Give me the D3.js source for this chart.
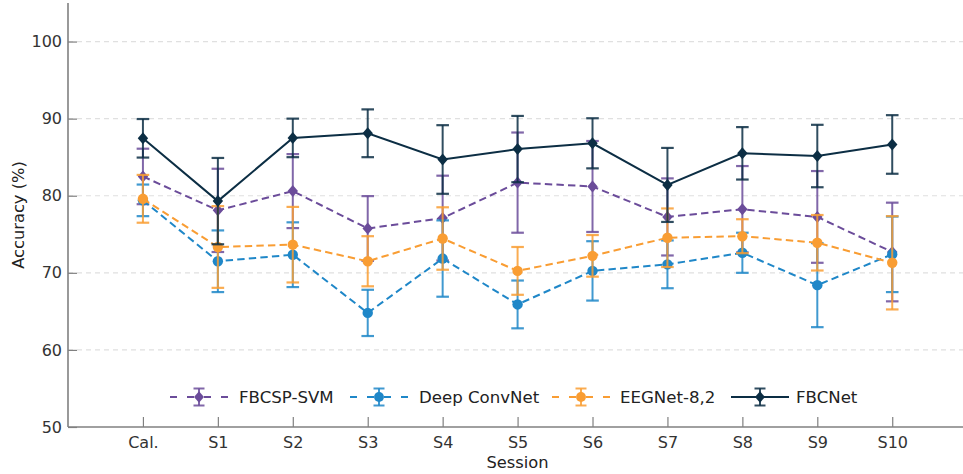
<!DOCTYPE html>
<html>
<head>
<meta charset="utf-8">
<script src="https://cdn.jsdelivr.net/npm/d3@7"></script>
<style>
  html, body { margin: 0; padding: 0; background: #fff; }
  svg { display: block; font-family: "DejaVu Sans", sans-serif; }
</style>
</head>
<body>
<svg id="chart" width="963" height="474"></svg>
<script>
// Sessions on the x axis
const sessions = ["Cal.", "S1", "S2", "S3", "S4", "S5", "S6", "S7", "S8", "S9", "S10"];

// Mean accuracy (%) and standard deviation per session
const fbcspMean   = [82.5, 78.1, 80.6, 75.75, 77.1, 81.7, 81.2, 77.25, 78.25, 77.25, 72.7];
const fbcspSd     = [3.6, 5.4, 4.8, 4.2, 5.5, 6.5, 5.9, 5.0, 5.6, 5.95, 6.4];
const deepMean    = [79.4, 71.5, 72.35, 64.8, 71.85, 65.9, 70.25, 71.1, 72.6, 68.4, 72.4];
const deepSd      = [2.05, 4.0, 4.2, 3.0, 4.95, 3.1, 3.85, 3.1, 2.6, 5.45, 4.9];
const eegnetMean  = [79.6, 73.35, 73.65, 71.5, 74.45, 70.25, 72.2, 74.55, 74.75, 73.9, 71.3];
const eegnetSd    = [3.1, 5.3, 4.9, 3.25, 4.05, 3.1, 2.7, 3.8, 2.2, 3.6, 6.05];
const fbcnetMean  = [87.45, 79.3, 87.5, 88.1, 84.7, 86.05, 86.8, 81.4, 85.5, 85.15, 86.65];
const fbcnetSd    = [2.5, 5.6, 2.5, 3.1, 4.45, 4.3, 3.25, 4.8, 3.4, 4.05, 3.8];

const yTicks = [50, 60, 70, 80, 90, 100];

const seriesNames = ["FBCSP-SVM", "Deep ConvNet", "EEGNet-8,2", "FBCNet"];

const series = [
  { name: seriesNames[0], mean: fbcspMean,  sd: fbcspSd,  color: "#6b4c9a", marker: "diamond", dashed: true },
  { name: seriesNames[1], mean: deepMean,   sd: deepSd,   color: "#1f87c8", marker: "circle",  dashed: true },
  { name: seriesNames[2], mean: eegnetMean, sd: eegnetSd, color: "#f99d33", marker: "circle",  dashed: true },
  { name: seriesNames[3], mean: fbcnetMean, sd: fbcnetSd, color: "#0c2e44", marker: "diamond", dashed: false }
];

const svg = d3.select("#chart");
const W = 963, H = 474;
const plotLeft = 68, plotBottom = 427, plotTop = 3;

const x = d3.scaleLinear().domain([-1, 11]).range([plotLeft, plotLeft + 12 * 74.93]);
const y = d3.scaleLinear().domain([50, 105]).range([plotBottom, plotTop]);

svg.append("defs").append("clipPath").attr("id", "plotclip")
  .append("rect").attr("x", plotLeft).attr("y", 0).attr("width", W - plotLeft).attr("height", plotBottom);

// Horizontal grid
svg.append("g")
  .selectAll("line")
  .data(yTicks.filter(t => t > 50))
  .join("line")
  .attr("x1", plotLeft).attr("x2", W)
  .attr("y1", d => y(d)).attr("y2", d => y(d))
  .attr("stroke", "#e0e0e0")
  .attr("stroke-width", 1.2)
  .attr("stroke-dasharray", "5,4");

// Axes with inward ticks
const yAxis = d3.axisLeft(y).tickValues(yTicks).tickSize(-9).tickPadding(6);
const yG = svg.append("g").attr("transform", `translate(${plotLeft},0)`).call(yAxis);
yG.select(".domain").attr("d", `M0,${y(105)}V${plotBottom}`);

const xAxis = d3.axisBottom(x).tickValues(d3.range(sessions.length)).tickFormat(i => sessions[i]).tickSize(-10).tickPadding(7);
const xG = svg.append("g").attr("transform", `translate(0,${plotBottom})`).call(xAxis);
xG.select(".domain").attr("d", `M${plotLeft},0H${W}`);

[yG, xG].forEach(g => {
  g.select(".domain").attr("stroke", "#808080").attr("stroke-width", 1.6);
  g.selectAll(".tick line").attr("stroke", "#808080").attr("stroke-width", 1.2);
  g.selectAll(".tick text").attr("fill", "#333").style("font-size", "16px").style("font-family", "DejaVu Sans, sans-serif");
});
yG.selectAll(".tick text").attr("x", -6);
xG.selectAll(".tick text").attr("y", 10);

// Axis titles
svg.append("text")
  .attr("transform", `translate(19,${(y(105) + plotBottom) / 2}) rotate(-90)`)
  .attr("text-anchor", "middle")
  .attr("dominant-baseline", "middle")
  .attr("fill", "#222")
  .style("font-size", "16.3px")
  .text("Accuracy (%)");

svg.append("text")
  .attr("x", x(5)).attr("y", 468)
  .attr("text-anchor", "middle")
  .attr("fill", "#222")
  .style("font-size", "16.3px")
  .text("Session");

function diamondPath(cx, cy, hw, hh) {
  return `M${cx},${cy - hh}L${cx + hw},${cy}L${cx},${cy + hh}L${cx - hw},${cy}Z`;
}

function drawMarker(g, kind, cx, cy, color, scale = 1) {
  if (kind === "circle") {
    g.append("circle").attr("cx", cx).attr("cy", cy).attr("r", 5.2 * scale).attr("fill", color);
  } else {
    g.append("path").attr("d", diamondPath(cx, cy, 5.2 * scale, 6 * scale)).attr("fill", color);
  }
}

const plot = svg.append("g").attr("clip-path", "url(#plotclip)");
const capHalf = 6.3;

series.forEach(s => {
  const g = plot.append("g");
  const idx = d3.range(sessions.length);

  // Error bars
  const eb = g.append("g").attr("stroke", s.color).attr("stroke-opacity", 0.85).attr("stroke-width", 2);
  idx.forEach(i => {
    const hi = y(s.mean[i] + s.sd[i]), lo = y(s.mean[i] - s.sd[i]), cx = x(i);
    eb.append("line").attr("x1", cx).attr("x2", cx).attr("y1", hi).attr("y2", lo);
    eb.append("line").attr("x1", cx - capHalf).attr("x2", cx + capHalf).attr("y1", hi).attr("y2", hi).attr("stroke-width", 2.2);
    eb.append("line").attr("x1", cx - capHalf).attr("x2", cx + capHalf).attr("y1", lo).attr("y2", lo).attr("stroke-width", 2.2);
  });

  // Mean line
  const line = d3.line().x(i => x(i)).y(i => y(s.mean[i]));
  g.append("path")
    .datum(idx)
    .attr("d", line)
    .attr("fill", "none")
    .attr("stroke", s.color)
    .attr("stroke-width", 2)
    .attr("stroke-dasharray", s.dashed ? "7.4,4.2" : null);

  // Markers
  idx.forEach(i => drawMarker(g, s.marker, x(i), y(s.mean[i]), s.color));
});

// Legend
const legendY = 397;
const legendX = [170, 350, 552, 731];
const legendTextX = [239, 419, 620, 796];
series.forEach((s, k) => {
  const g = svg.append("g");
  const x0 = legendX[k], x1 = x0 + 58, cx = (x0 + x1) / 2;
  g.append("line")
    .attr("x1", x0).attr("x2", x1).attr("y1", legendY).attr("y2", legendY)
    .attr("stroke", s.color).attr("stroke-width", 2)
    .attr("stroke-dasharray", s.dashed ? "7,10" : null);
  const eb = g.append("g").attr("stroke", s.color).attr("stroke-opacity", 0.85).attr("stroke-width", 2);
  eb.append("line").attr("x1", cx).attr("x2", cx).attr("y1", legendY - 8.5).attr("y2", legendY + 8.5);
  eb.append("line").attr("x1", cx - 5.5).attr("x2", cx + 5.5).attr("y1", legendY - 8.5).attr("y2", legendY - 8.5);
  eb.append("line").attr("x1", cx - 5.5).attr("x2", cx + 5.5).attr("y1", legendY + 8.5).attr("y2", legendY + 8.5);
  drawMarker(g, s.marker, cx, legendY, s.color, 0.95);
  g.append("text")
    .attr("x", legendTextX[k]).attr("y", legendY)
    .attr("dominant-baseline", "central")
    .attr("fill", "#222")
    .style("font-size", "16.6px")
    .text(s.name);
});
</script>
</body>
</html>
